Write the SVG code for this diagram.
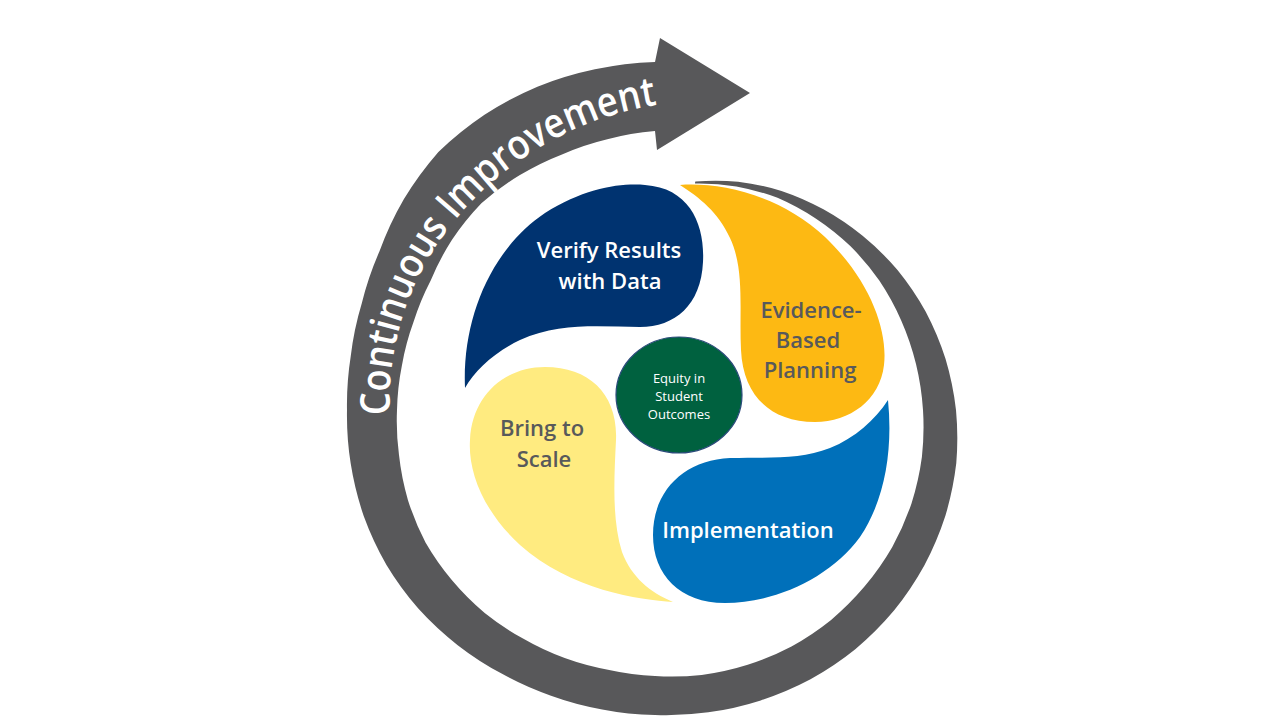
<svg xmlns="http://www.w3.org/2000/svg" width="1280" height="720" viewBox="0 0 1280 720">
<defs>
<style>
.lbl{font-family:"Open Sans","Noto Sans",sans-serif;font-weight:600;font-size:22px;text-anchor:middle}
.dark{fill:#58595B}
.light{fill:#FFFFFF}
.ctr{font-family:"Open Sans","Noto Sans",sans-serif;font-weight:400;font-size:13px;fill:#FFFFFF;text-anchor:middle}
</style>
<path id="arcText" d="M 390,415 A 285 285 0 0 1 462,212 A 330 330 0 0 1 662,104"/>
</defs>
<rect width="1280" height="720" fill="#FFFFFF"/>
<g id="connectors">
<g id="continuous-improvement">
<path fill="#58585A" d="M 695.3,181.5 A 237 237 0 0 1 738.1,181.7 A 248 248 0 0 1 781.5,190.9 A 257 257 0 0 1 823.4,209.3 A 266 266 0 0 1 862.6,235.8 A 275 275 0 0 1 897.5,270 A 284 284 0 0 1 925.6,311.5 A 291 291 0 0 1 945.5,358.8 A 298 298 0 0 1 956,410 A 303 303 0 0 1 956.3,463.1 A 307 307 0 0 1 945.4,515.7 A 310 310 0 0 1 924.3,565.5 A 311 311 0 0 1 894,610.6 A 312 312 0 0 1 855.6,649 A 311 311 0 0 1 810.5,679.3 A 310 310 0 0 1 760.7,700.4 A 308 308 0 0 1 708.3,712.3 A 306 306 0 0 1 655,715 A 304 304 0 0 1 602.2,709.4 A 304 304 0 0 1 551,695.7 A 304 304 0 0 1 502.5,674.1 A 306 306 0 0 1 457.7,645.2 A 308 308 0 0 1 418.3,608.6 A 309 309 0 0 1 386.5,565 A 310 310 0 0 1 363.7,516 A 310 310 0 0 1 350.7,463.6 A 308 308 0 0 1 347,410 A 308 308 0 0 1 350.7,356.4 A 310 310 0 0 1 361.8,303.3 A 315 315 0 0 1 379.6,251 A 323 323 0 0 1 403.8,199.2 A 332 332 0 0 1 438.4,151.9 A 339 339 0 0 1 484.5,114.7 A 342 342 0 0 1 537.4,86.7 A 345 345 0 0 1 594.9,69.3 A 347 347 0 0 1 655,62 L 660,38 L 750,93 L 657,150 L 655,131 A 277 277 0 0 0 607.3,139.2 A 273 273 0 0 0 562,154.4 A 271 271 0 0 0 519.5,175.3 A 270 270 0 0 0 481.4,203.2 A 267 267 0 0 0 452,239.7 A 262 262 0 0 0 430.7,280.5 A 258 258 0 0 0 413.5,322.1 A 257 257 0 0 0 401.9,365.4 A 257 257 0 0 0 397,410 A 259 259 0 0 0 399,455.1 A 261 261 0 0 0 407.9,499.9 A 264 264 0 0 0 425.5,542.5 A 265 265 0 0 0 452,580.3 A 265 265 0 0 0 484.7,613 A 264 264 0 0 0 523,638.6 A 264 264 0 0 0 564.7,658.1 A 264 264 0 0 0 609.2,670 A 265 265 0 0 0 655,676 A 267 267 0 0 0 701.7,674.9 A 270 270 0 0 0 747.7,664.7 A 272 272 0 0 0 791.5,646.4 A 273 273 0 0 0 831.1,619.9 A 274 274 0 0 0 864.9,586.1 A 274 274 0 0 0 892.3,547 A 274 274 0 0 0 911.5,503.4 A 272 272 0 0 0 921.9,457 A 270 270 0 0 0 923,410 A 266 266 0 0 0 916,364 A 263 263 0 0 0 901.2,320.4 A 260 260 0 0 0 879.3,280.5 A 257 257 0 0 0 850.3,246.1 A 252 252 0 0 0 815.7,218.5 A 247 247 0 0 0 777.5,197.8 A 241 241 0 0 0 736.4,186.4 A 234 234 0 0 0 694.9,183.5 Z"/>
<text font-family="'Open Sans','Noto Sans',sans-serif" font-weight="600" font-size="41" fill="#FFFFFF"><textPath href="#arcText" textLength="448" lengthAdjust="spacingAndGlyphs">Continuous Improvement</textPath></text>
</g>
</g>
<g id="verify">
<path fill="#003370" d="M 465,388 C 462,320 490,250 545,213 C 585,188 620,183 645,185 C 690,188 705,225 703,262 C 701,305 675,327 640,327 C 600,327 560,322 520,340 C 495,352 475,370 465,388 Z"/>
<text class="lbl light" x="609" y="258">Verify Results</text>
<text class="lbl light" x="610" y="289">with Data</text>
</g>
<g id="planning">
<path fill="#FDB913" d="M 680,185 C 720,182 780,195 825,237 C 870,280 888,330 884,365 C 880,400 850,422 815,422 C 770,422 743,395 741,350 C 739,310 745,270 730,238 C 718,212 700,198 680,185 Z"/>
<text class="lbl dark" x="811" y="318">Evidence-</text>
<text class="lbl dark" x="808" y="348">Based</text>
<text class="lbl dark" x="810" y="378">Planning</text>
</g>
<g id="implementation">
<path fill="#0070BA" d="M 888,400 C 893,450 885,500 860,537 C 830,578 775,603 725,603 C 680,603 653,575 653,535 C 653,490 685,460 730,458 C 770,457 800,460 830,448 C 855,438 875,420 888,400 Z"/>
<text class="lbl light" x="748" y="538">Implementation</text>
</g>
<g id="scale">
<path fill="#FFEB80" d="M 673,602 C 640,600 570,590 520,545 C 482,510 468,470 470,440 C 472,395 505,367 545,367 C 590,367 618,395 616,440 C 614,480 612,520 622,552 C 632,578 650,592 673,602 Z"/>
<text class="lbl dark" x="542" y="436">Bring to</text>
<text class="lbl dark" x="544" y="467">Scale</text>
</g>
<g id="equity">
<ellipse cx="679" cy="395" rx="63" ry="58" fill="#00613F" stroke="#2A4A7A" stroke-width="1.2"/>
<text class="ctr" x="679" y="383">Equity in</text>
<text class="ctr" x="679" y="401">Student</text>
<text class="ctr" x="679" y="419">Outcomes</text>
</g>
</svg>
